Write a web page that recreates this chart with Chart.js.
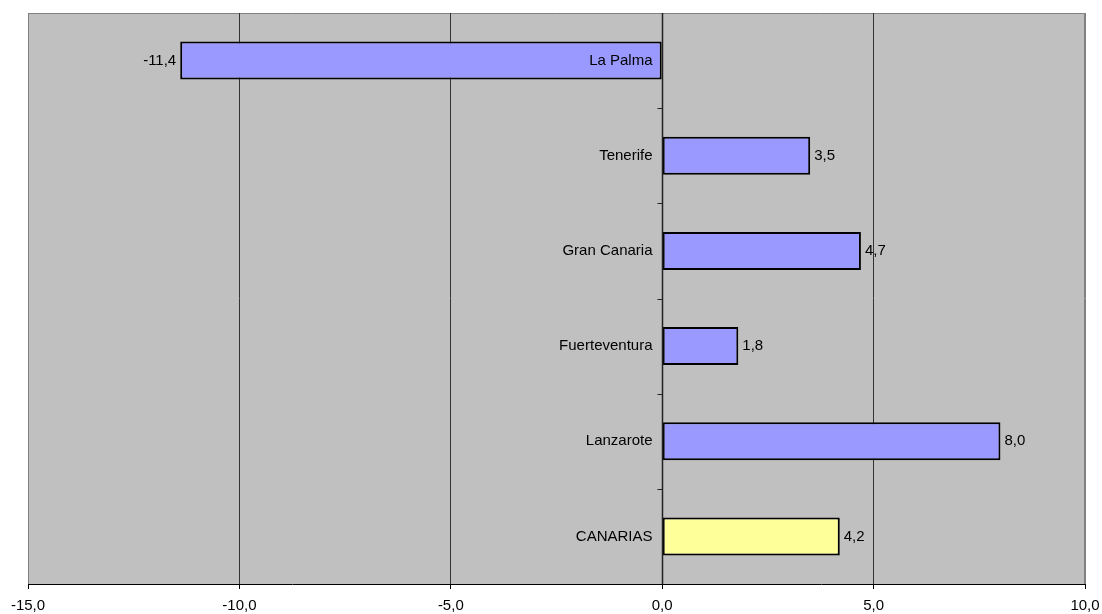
<!DOCTYPE html>
<html>
<head>
<meta charset="utf-8">
<script src="https://cdn.jsdelivr.net/npm/chart.js@4.4.1/dist/chart.umd.min.js"></script>
<style>
html, body { margin: 0; padding: 0; background: #fff; }
#wrap { width: 1102px; height: 614px; }
</style>
</head>
<body>
<div id="wrap"><canvas id="chart"></canvas></div>
<script>
const islands = ['La Palma', 'Tenerife', 'Gran Canaria', 'Fuerteventura', 'Lanzarote', 'CANARIAS'];
const growth = [-11.4, 3.5, 4.7, 1.8, 8.0, 4.2];
const barColors = ['#9999FF', '#9999FF', '#9999FF', '#9999FF', '#9999FF', '#FFFF99'];
const xTicks = [-15, -10, -5, 0, 5, 10];

const FONT = "'Liberation Sans', Arial, sans-serif";
Chart.defaults.font.family = FONT;
Chart.defaults.font.size = 15;
Chart.defaults.color = '#000';

function fmt(v){
    return v.toFixed(1).replace('.', ',');
}

// grey plot area + labels next to the zero axis
const plotDecor = {
    id: 'plotDecor',
    beforeDraw(chart){
        const {ctx, chartArea: a} = chart;
        ctx.save();
        ctx.fillStyle = '#C0C0C0';
        ctx.fillRect(a.left, a.top, a.right - a.left, a.bottom - a.top);
        ctx.strokeStyle = '#808080';
        ctx.lineWidth = 1;
        ctx.beginPath();
        ctx.moveTo(a.left + 0.5, a.bottom);
        ctx.lineTo(a.left + 0.5, a.top + 0.5);
        ctx.lineTo(a.right - 0.5, a.top + 0.5);
        ctx.lineTo(a.right - 0.5, a.bottom);
        ctx.stroke();
        ctx.restore();
    },
    afterDatasetsDraw(chart){
        const {ctx, chartArea: a} = chart;
        const x = chart.scales.x, y = chart.scales.y;
        const zero = Math.round(x.getPixelForValue(0)) + 0.5;
        ctx.save();
        ctx.strokeStyle = '#222';
        ctx.lineWidth = 1.5;
        ctx.beginPath();
        ctx.moveTo(zero, a.top);
        ctx.lineTo(zero, a.bottom);
        ctx.stroke();
        ctx.lineWidth = 1;
        ctx.beginPath();
        for (let i = 0; i < islands.length - 1; i++) {
            const yy = Math.round((y.getPixelForValue(i) + y.getPixelForValue(i + 1)) / 2) + 0.5;
            ctx.moveTo(zero - 5, yy);
            ctx.lineTo(zero, yy);
        }
        ctx.stroke();

        ctx.font = '15px ' + FONT;
        ctx.fillStyle = '#000';
        ctx.textBaseline = 'middle';
        const meta = chart.getDatasetMeta(0);
        islands.forEach((name, i) => {
            const bar = meta.data[i];
            ctx.textAlign = 'right';
            ctx.fillText(name, zero - 10, bar.y);
            if (growth[i] < 0) {
                ctx.textAlign = 'right';
                ctx.fillText(fmt(growth[i]), bar.x - 4, bar.y);
            } else {
                ctx.textAlign = 'left';
                ctx.fillText(fmt(growth[i]), bar.x + 4, bar.y);
            }
        });
        ctx.restore();
    }
};

new Chart(document.getElementById('chart'), {
    type: 'bar',
    data: {
        labels: islands,
        datasets: [{
            data: growth,
            backgroundColor: barColors,
            borderColor: '#000',
            borderWidth: 2,
            borderSkipped: false,
            categoryPercentage: 1,
            barPercentage: 0.4
        }]
    },
    options: {
        indexAxis: 'y',
        responsive: true,
        maintainAspectRatio: false,
        animation: false,
        layout: { padding: { left: 28, right: 17, top: 13, bottom: 0 } },
        plugins: {
            legend: { display: false },
            tooltip: { enabled: false }
        },
        scales: {
            x: {
                min: -15,
                max: 10,
                afterBuildTicks: s => { s.ticks = xTicks.map(v => ({ value: v })); },
                afterFit: s => {
                    s.height = 30;
                    s.paddingLeft = 0;
                    s.paddingRight = 0;
                },
                ticks: {
                    padding: 8,
                    maxRotation: 0,
                    callback: v => fmt(v)
                },
                grid: {
                    color: c => (c.tick && (c.tick.value === -15 || c.tick.value === 10)) ? '#808080' : '#333',
                    tickColor: '#000',
                    tickLength: 5
                },
                border: { color: '#000', width: 1 }
            },
            y: {
                display: false
            }
        }
    },
    plugins: [plotDecor]
});
</script>
</body>
</html>
